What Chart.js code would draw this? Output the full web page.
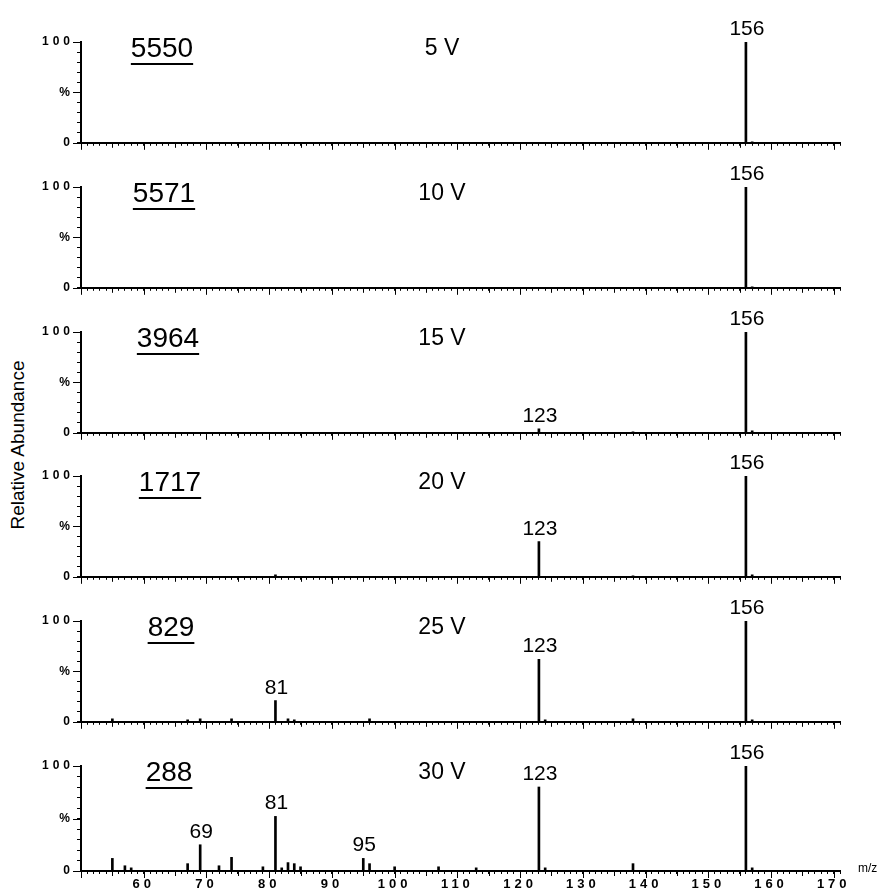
<!DOCTYPE html>
<html>
<head>
<meta charset="utf-8">
<script src="https://cdn.jsdelivr.net/npm/chart.js@4.4.1/dist/chart.umd.min.js"></script>
<style>
  html, body { margin: 0; padding: 0; background: #fff; }
  #wrap { position: relative; width: 877px; height: 891px; overflow: hidden; background: #fff; }
  #wrap canvas { position: absolute; left: 0; }
  #ytitle {
    position: absolute; left: -82px; top: 434px; width: 200px; height: 22px;
    text-align: center; font: 19px 'Liberation Sans', Arial, sans-serif; color: #000;
    transform: rotate(-90deg); transform-origin: 50% 50%; white-space: nowrap;
  }
</style>
</head>
<body>
<div id="wrap"><div id="ytitle">Relative Abundance</div></div>
<script>
// Cone-voltage series of product-ion spectra
const voltages = ['5 V', '10 V', '15 V', '20 V', '25 V', '30 V'];
const basePeakCounts = ['5550', '5571', '3964', '1717', '829', '288'];

const mz5V  = [156, 157];
const ab5V  = [100, 1];
const mz10V = [156, 157];
const ab10V = [100, 1];
const mz15V = [123, 138, 156, 157];
const ab15V = [4, 1, 100, 2];
const mz20V = [81, 123, 138, 156, 157];
const ab20V = [2, 35, 1, 100, 2];
const mz25V = [55, 67, 69, 74, 81, 83, 84, 96, 123, 124, 138, 156, 157];
const ab25V = [3, 2, 3, 3, 21, 3, 2, 3, 62, 2, 3, 100, 2];
const mz30V = [55, 57, 58, 67, 69, 72, 74, 79, 81, 82, 83, 84, 85, 95, 96, 100, 107, 113, 123, 124, 138, 156, 157];
const ab30V = [12, 5, 3, 7, 25, 5, 13, 4, 52, 3, 8, 7, 4, 12, 7, 4, 4, 3, 80, 3, 7, 100, 3];

const tagged5V  = [156];
const tagged10V = [156];
const tagged15V = [123, 156];
const tagged20V = [123, 156];
const tagged25V = [81, 123, 156];
const tagged30V = [69, 81, 95, 123, 156];

const mzTickLabels = [60, 70, 80, 90, 100, 110, 120, 130, 140, 150, 160, 170];

const panelMz     = [mz5V, mz10V, mz15V, mz20V, mz25V, mz30V];
const panelAb     = [ab5V, ab10V, ab15V, ab20V, ab25V, ab30V];
const panelTagged = [tagged5V, tagged10V, tagged15V, tagged20V, tagged25V, tagged30V];

// layout
const plotTop = [42, 187, 332, 476, 621, 766];   // y of the 100 % line
const countX  = [162, 164, 168, 170, 171, 169];  // centre of the underlined count
const headroom = 34, plotH = 105, plotLeft = 81, plotRightPad = 37;
const FONT = "'Liberation Sans', Arial, sans-serif";

function decor(i, isBottom) {
  return {
    id: 'decor' + i,
    beforeDraw(chart) { chart.ctx.letterSpacing = '4px'; },
    afterDraw(chart) {
      const ctx = chart.ctx, area = chart.chartArea;
      const xs = chart.scales.x, ys = chart.scales.y;
      ctx.save();
      ctx.letterSpacing = '0px';
      ctx.strokeStyle = '#000';
      ctx.lineWidth = 1;
      // longer x ticks at every 5 and 10
      for (let v = Math.ceil(xs.min / 5) * 5; v <= xs.max; v += 5) {
        const px = Math.round(xs.getPixelForValue(v)) + 0.5;
        const len = v % 10 === 0 ? 7 : 5;
        ctx.beginPath(); ctx.moveTo(px, area.bottom); ctx.lineTo(px, area.bottom + len); ctx.stroke();
      }
      // longer y ticks at 0, 50, 100
      for (const v of [0, 50, 100]) {
        const py = Math.round(ys.getPixelForValue(v)) + 0.5;
        ctx.beginPath(); ctx.moveTo(area.left - 8, py); ctx.lineTo(area.left, py); ctx.stroke();
      }
      ctx.fillStyle = '#000';
      // peak m/z labels
      ctx.font = '21px ' + FONT;
      ctx.textAlign = 'center';
      ctx.textBaseline = 'alphabetic';
      const meta = chart.getDatasetMeta(0);
      meta.data.forEach((bar, k) => {
        const m = panelMz[i][k];
        if (panelTagged[i].includes(m)) ctx.fillText(String(m), bar.x + 1, bar.y - 7);
      });
      // underlined base-peak count
      ctx.font = '28px ' + FONT;
      const txt = basePeakCounts[i];
      const w = ctx.measureText(txt).width;
      const cx = countX[i];
      ctx.fillText(txt, cx, area.top + 15);
      ctx.fillRect(cx - w / 2, area.top + 21, w, 2);
      // collision voltage
      ctx.font = '23px ' + FONT;
      ctx.fillText(voltages[i], 442, area.top + 13);
      if (isBottom) {
        ctx.font = '12px ' + FONT;
        ctx.textAlign = 'left';
        ctx.textBaseline = 'middle';
        ctx.fillText('m/z', area.right + 18, area.bottom - 2);
      }
      ctx.restore();
    }
  };
}

const wrap = document.getElementById('wrap');
for (let i = 0; i < 6; i++) {
  const isBottom = i === 5;
  const axisH = isBottom ? 20 : 6;
  const cv = document.createElement('canvas');
  cv.width = 877;
  cv.height = headroom + plotH + axisH;
  cv.style.top = (plotTop[i] - headroom) + 'px';
  wrap.appendChild(cv);

  new Chart(cv, {
    type: 'bar',
    data: {
      datasets: [{
        data: panelMz[i].map((m, k) => ({ x: m, y: panelAb[i][k] })),
        backgroundColor: '#000',
        borderWidth: 0,
        barThickness: 2
      }]
    },
    options: {
      responsive: false,
      animation: false,
      events: [],
      devicePixelRatio: 1,
      layout: { padding: { top: headroom, right: plotRightPad, left: 0, bottom: 0 } },
      plugins: { legend: { display: false }, tooltip: { enabled: false }, title: { display: false } },
      scales: {
        x: {
          type: 'linear', min: 50, max: 171, offset: false,
          border: { display: true, color: '#000', width: 2 },
          grid: { drawOnChartArea: false, drawTicks: true, tickLength: 3, color: '#000', lineWidth: 1, offset: false },
          ticks: {
            stepSize: 1, autoSkip: false, maxRotation: 0, minRotation: 0, color: '#000', padding: 3,
            font: { family: FONT, size: 13, weight: 'bold' },
            callback: v => (isBottom && mzTickLabels.includes(v)) ? String(v) : ''
          },
          afterFit(s) { s.height = axisH; }
        },
        y: {
          min: 0, max: 100,
          border: { display: true, color: '#000', width: 2 },
          grid: { drawOnChartArea: false, drawTicks: true, tickLength: 4, color: '#000', lineWidth: 1 },
          ticks: {
            stepSize: 10, autoSkip: false, color: '#000', padding: 3,
            font: { family: FONT, size: 12, weight: 'bold' },
            callback: v => v === 100 ? '100' : v === 50 ? '%' : v === 0 ? '0' : ''
          },
          afterFit(s) { s.width = plotLeft; }
        }
      }
    },
    plugins: [decor(i, isBottom)]
  });
}
</script>
</body>
</html>
